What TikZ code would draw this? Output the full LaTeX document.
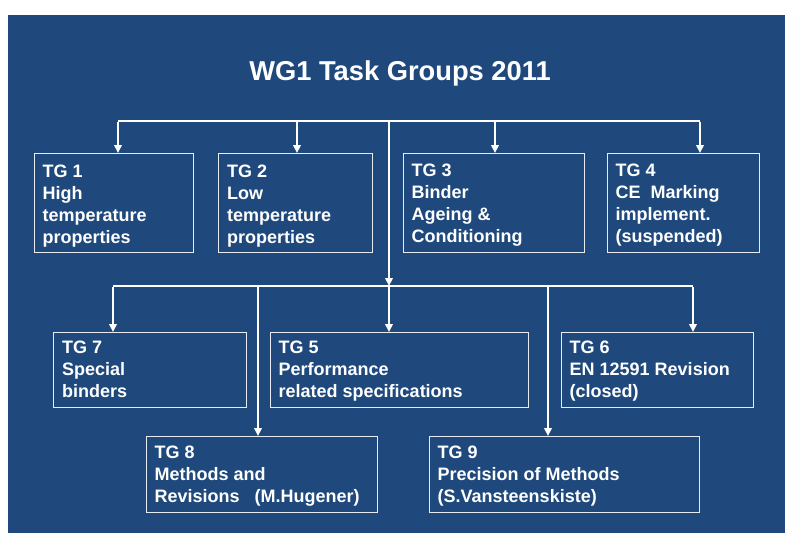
\documentclass[tikz,border=0pt]{standalone}
\usepackage{fontspec}
\setmainfont{Liberation Sans}
\usetikzlibrary{arrows.meta,calc}
\definecolor{bgblue}{RGB}{31,73,125}
\definecolor{boxline}{RGB}{232,236,242}
\begin{document}
\begin{tikzpicture}[x=1pt,y=-1pt,
  tgbox/.style={draw=boxline,line width=1.3pt,rectangle,inner sep=0pt,anchor=north west},
  tgtext/.style={anchor=north west,inner sep=0pt,align=left,text=white,font=\bfseries\fontsize{18}{22}\selectfont},
  bus/.style={draw=white,line width=2.6pt},
  bus2/.style={draw=white,line width=2.1pt},
  arr/.style={draw=white,line width=2.2pt,-{Triangle[length=8pt,width=7.5pt]}}
]
\useasboundingbox (0,0) rectangle (785,533);
\fill[white] (0,0) rectangle (785,533);
\fill[bgblue] (8,15) rectangle (785,533);

\node[anchor=base,text=white,font=\bfseries\fontsize{27.3}{32}\selectfont] (title) at (400,80) {WG1 Task Groups 2011};

% boxes
\node[tgbox,minimum width=159pt,minimum height=99pt] (tg1) at (34,153) {};
\node[tgbox,minimum width=154pt,minimum height=99pt] (tg2) at (218,153) {};
\node[tgbox,minimum width=181pt,minimum height=99pt] (tg3) at (403,153) {};
\node[tgbox,minimum width=152pt,minimum height=99pt] (tg4) at (607,153) {};
\node[tgbox,minimum width=193pt,minimum height=75pt] (tg7) at (53,332) {};
\node[tgbox,minimum width=258pt,minimum height=75pt] (tg5) at (270,332) {};
\node[tgbox,minimum width=192pt,minimum height=75pt] (tg6) at (561,332) {};
\node[tgbox,minimum width=231pt,minimum height=76pt] (tg8) at (146,436) {};
\node[tgbox,minimum width=270pt,minimum height=76pt] (tg9) at (429,436) {};

% texts
\node[tgtext] (t1) at ($(tg1.north west)+(8.5,12)$) {TG 1\\High\\temperature\\properties};
\node[tgtext] (t2) at ($(tg2.north west)+(9,12)$) {TG 2\\Low\\temperature\\properties};
\node[tgtext] (t3) at ($(tg3.north west)+(8.5,10.5)$) {TG 3\\Binder\\Ageing \&\\Conditioning};
\node[tgtext] (t4) at ($(tg4.north west)+(8.5,10.5)$) {TG 4\\CE\ \ Marking\\implement.\\(suspended)};
\node[tgtext] (t7) at ($(tg7.north west)+(9,9)$) {TG 7\\Special\\binders};
\node[tgtext] (t5) at ($(tg5.north west)+(8.5,9)$) {TG 5\\Performance\\related specifications};
\node[tgtext] (t6) at ($(tg6.north west)+(8.5,9)$) {TG 6\\EN 12591 Revision\\(closed)};
\node[tgtext] (t8) at ($(tg8.north west)+(8.5,10)$) {TG 8\\Methods and\\Revisions\ \ \ (M.Hugener)};
\node[tgtext] (t9) at ($(tg9.north west)+(8.5,10)$) {TG 9\\Precision of Methods\\(S.Vansteenskiste)};

% top bus
\coordinate (d1) at (118,121);
\coordinate (d2) at (297,121);
\coordinate (hub) at (389,121);
\coordinate (d3) at (495,121);
\coordinate (d4) at (700,121);
\draw[bus] (d1) -- (d4);
\draw[arr] ([yshift=-1.2pt]d1) -- (d1 |- tg1.north);
\draw[arr] (d2) -- (d2 |- tg2.north);
\draw[arr] (d3) -- (d3 |- tg3.north);
\draw[arr] ([yshift=-1.2pt]d4) -- (d4 |- tg4.north);

% lower bus
\coordinate (e7) at (113,286);
\coordinate (e8) at (258,286);
\coordinate (hub2) at (389,286);
\coordinate (e9) at (548,286);
\coordinate (e6) at (693,286);
\draw[arr] (hub) -- (hub2);
\draw[bus2] (e7) -- (e6);
\draw[arr] ([yshift=-1pt]e7) -- (e7 |- tg7.north);
\draw[arr] (e8) -- (e8 |- tg8.north);
\draw[arr] (hub2) -- (hub2 |- tg5.north);
\draw[arr] (e9) -- (e9 |- tg9.north);
\draw[arr] ([yshift=-1pt]e6) -- (e6 |- tg6.north);
\end{tikzpicture}
\end{document}
